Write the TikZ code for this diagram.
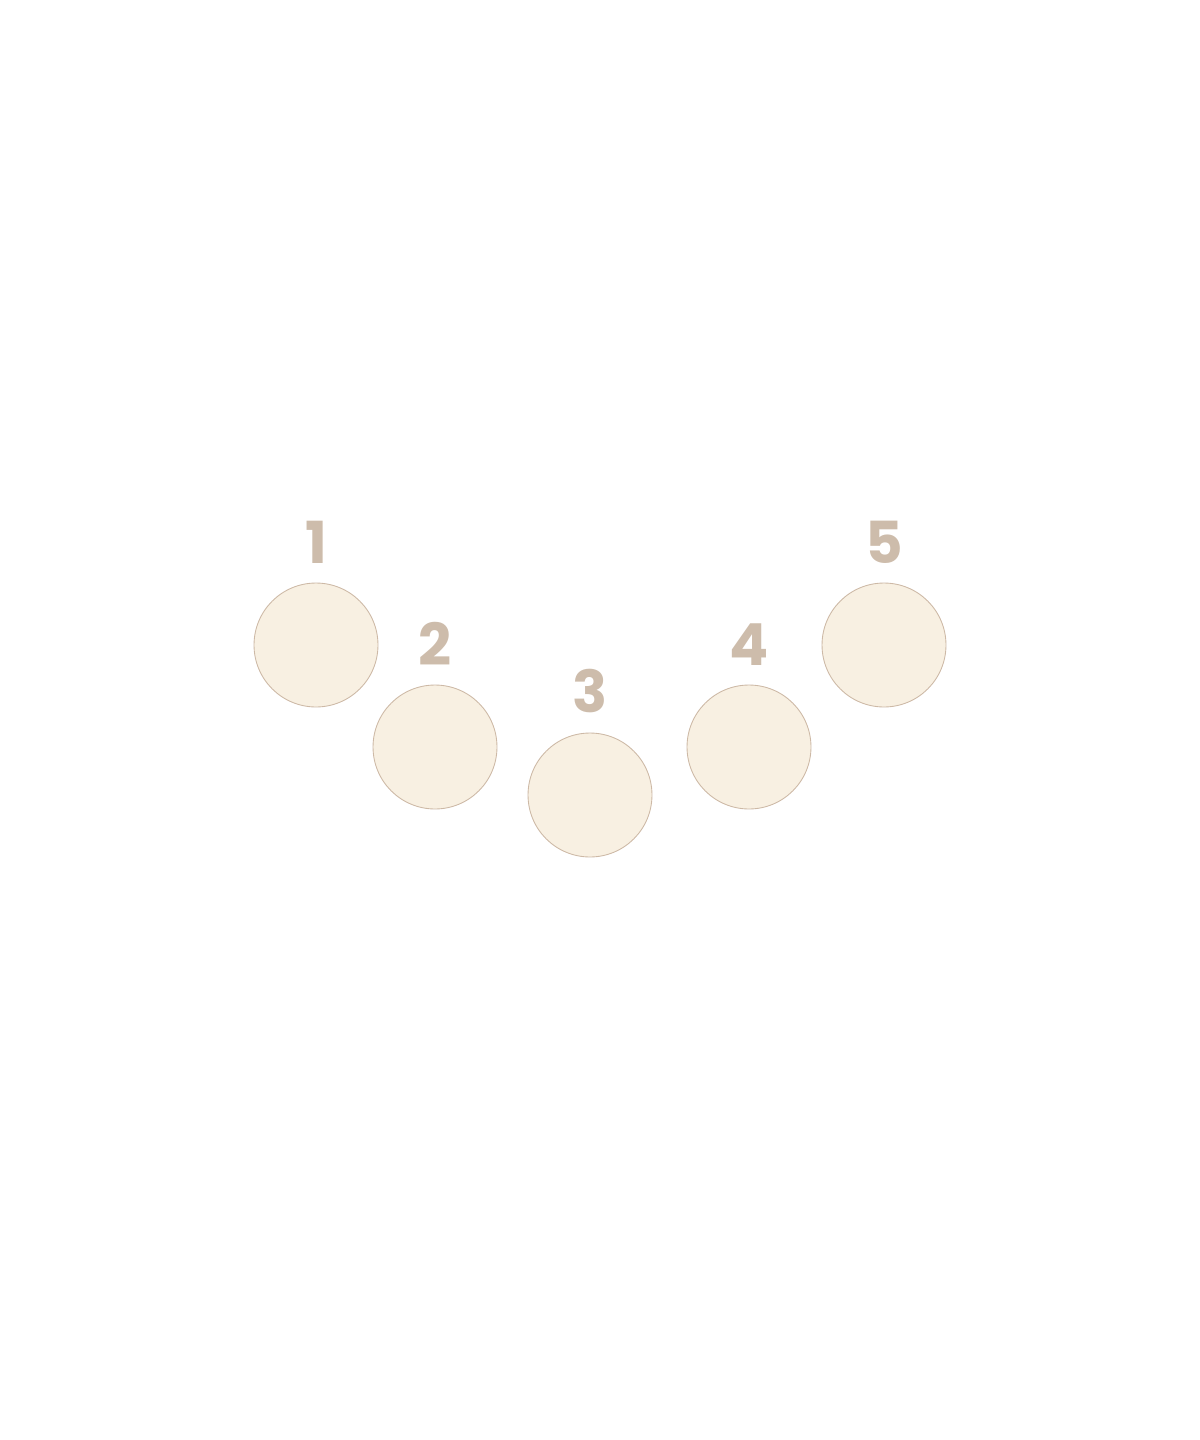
\documentclass[tikz,border=0pt]{standalone}
\usepackage{fontspec}
\setmainfont{Poppins}
\usepackage{tikz}
\usetikzlibrary{positioning}
\definecolor{discfill}{HTML}{F8F0E2}
\definecolor{discline}{HTML}{CDB9A6}
\definecolor{numcolor}{HTML}{CDBCAB}
\tikzset{
  disc/.style={circle,fill=discfill,draw=discline,line width=0.5pt,minimum size=2.48cm,inner sep=0pt},
  num/.style={text=numcolor,font=\fontsize{33}{36}\selectfont\bfseries,inner sep=0pt}
}
\begin{document}
\begin{tikzpicture}[x=0.02cm,y=-0.02cm]
\useasboundingbox (0,0) rectangle (1200,1440);
\foreach \n/\x/\y in {1/316/645, 2/435/747, 3/590/795, 4/749/747, 5/884/645}
  {
  \node[disc] (c\n) at (\x,\y) {};
  \node[num, above=0.38cm of c\n] (n\n) {\n};
  }
\end{tikzpicture}
\end{document}
